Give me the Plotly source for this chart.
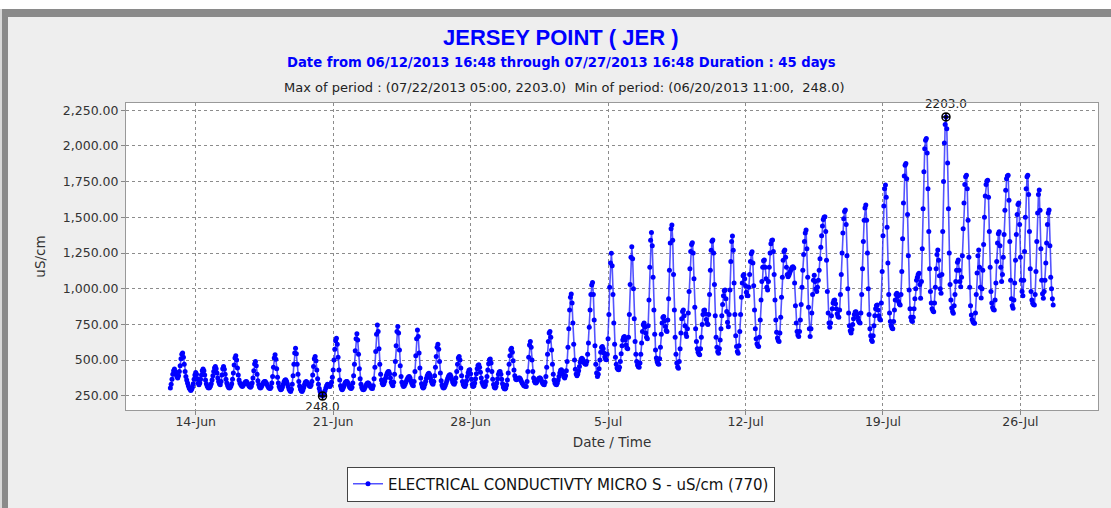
import pandas as pd
import plotly.graph_objects as go

# Hourly electrical conductivity (uS/cm), first value at 2013-06-12 17:00
start_time = "2013-06-12 17:00"

ec_part1 = [  # h0 - h119
    304, 330, 365, 400, 425, 437, 420, 400, 385, 374,
    390, 420, 460, 510, 540, 549, 520, 470, 420, 385,
    360, 340, 320, 305, 295, 287, 295, 310, 335, 365,
    395, 413, 400, 370, 340, 327, 340, 365, 395, 425,
    437, 425, 395, 360, 335, 318, 308, 304, 308, 318,
    335, 360, 390, 420, 445, 455, 440, 410, 375, 350,
    335, 327, 350, 395, 440, 455, 435, 400, 365, 340,
    322, 310, 304, 308, 318, 335, 365, 410, 465, 515,
    530, 500, 445, 395, 360, 340, 328, 320, 315, 322,
    332, 342, 348, 350, 342, 330, 320, 313, 310, 318,
    340, 375, 425, 472, 490, 460, 400, 355, 328, 312,
    304, 310, 322, 335, 345, 350, 350, 342, 330, 318,
]
ec_part2 = [  # h120 - h239
    308, 302, 300, 310, 340, 385, 450, 515, 537, 505,
    440, 380, 340, 315, 300, 292, 298, 312, 330, 348,
    358, 362, 352, 335, 315, 298, 286, 280, 295, 330,
    390, 470, 550, 583, 545, 470, 400, 350, 318, 298,
    285, 280, 290, 308, 328, 345, 350, 345, 335, 325,
    318, 315, 325, 350, 395, 455, 510, 525, 495, 430,
    370, 330, 300, 280, 265, 255, 248, 255, 268, 285,
    305, 320, 330, 325, 318, 315, 325, 345, 380, 430,
    500, 575, 635, 653, 610, 520, 430, 360, 320, 300,
    292, 300, 315, 332, 345, 350, 350, 340, 325, 312,
    304, 300, 310, 340, 390, 470, 565, 650, 684, 640,
    540, 440, 370, 330, 308, 296, 292, 298, 310, 322,
]
ec_part3 = [  # h240 - h359
    333, 339, 340, 332, 320, 310, 303, 300, 320, 370,
    450, 560, 680, 746, 700, 580, 470, 400, 360, 338,
    327, 335, 352, 372, 392, 408, 418, 420, 405, 375,
    345, 328, 320, 345, 400, 490, 600, 700, 735, 690,
    570, 460, 385, 345, 325, 315, 320, 332, 346, 360,
    372, 381, 385, 375, 355, 338, 326, 320, 350, 420,
    530, 650, 711, 665, 550, 445, 375, 335, 313, 304,
    312, 330, 350, 372, 390, 403, 408, 398, 375, 352,
    337, 330, 350, 390, 450, 525, 590, 611, 575, 490,
    410, 355, 325, 310, 304, 310, 322, 338, 355, 372,
    386, 395, 397, 385, 365, 347, 336, 330, 345, 375,
    420, 470, 515, 525, 500, 445, 390, 350, 328, 318,
]
ec_part4 = [  # h360 - h479
    315, 328, 355, 385, 412, 428, 432, 405, 365, 330,
    315, 320, 340, 370, 405, 440, 462, 467, 450, 415,
    375, 345, 328, 318, 315, 325, 350, 385, 430, 475,
    502, 507, 480, 420, 365, 328, 310, 304, 315, 340,
    370, 400, 417, 420, 400, 365, 335, 312, 301, 297,
    305, 325, 360, 410, 470, 530, 572, 583, 555, 495,
    430, 390, 368, 362, 366, 371, 374, 374, 366, 352,
    340, 330, 322, 318, 316, 315, 350, 420, 520, 605,
    630, 590, 500, 420, 375, 352, 342, 339, 348, 360,
    370, 374, 374, 365, 350, 338, 330, 327, 345, 385,
    450, 540, 630, 690, 700, 660, 570, 470, 400, 360,
    340, 330, 327, 340, 360, 385, 410, 428, 432, 420,
]
ec_part5 = [  # h480 - h599
    400, 383, 374, 390, 425, 490, 590, 720, 850, 940,
    963, 900, 760, 610, 500, 435, 402, 390, 402, 425,
    455, 485, 506, 513, 505, 492, 480, 472, 470, 490,
    540, 620, 730, 850, 960, 1025, 1043, 960, 780, 600,
    470, 410, 385, 400, 440, 500, 555, 588, 595, 580,
    550, 522, 505, 502, 540, 650, 820, 1010, 1180, 1248,
    1160, 960, 760, 610, 520, 470, 445, 435, 432, 450,
    490, 545, 600, 640, 660, 665, 640, 605, 585, 580,
    660, 820, 1030, 1220, 1294, 1210, 1000, 790, 630, 540,
    490, 465, 453, 450, 480, 540, 620, 700, 748, 759,
    730, 690, 660, 650, 740, 920, 1150, 1340, 1394, 1300,
    1080, 850, 680, 570, 515, 488, 475, 470, 510, 590,
]
ec_part6 = [  # h600 - h719
    680, 760, 798, 805, 775, 735, 708, 700, 780, 930,
    1130, 1320, 1420, 1446, 1340, 1100, 850, 660, 540, 480,
    452, 443, 490, 580, 690, 790, 840, 851, 810, 740,
    685, 665, 720, 830, 980, 1140, 1260, 1310, 1322, 1250,
    1070, 870, 720, 630, 580, 555, 542, 537, 580, 660,
    750, 820, 848, 851, 825, 785, 758, 750, 820, 960,
    1130, 1270, 1332, 1341, 1250, 1030, 810, 660, 590, 558,
    548, 580, 640, 720, 810, 890, 950, 985, 991, 930,
    840, 765, 734, 820, 990, 1190, 1330, 1369, 1270, 1040,
    820, 670, 595, 560, 548, 600, 700, 820, 940, 1040,
    1090, 1100, 1070, 1020, 975, 952, 950, 1010, 1100, 1190,
    1245, 1259, 1180, 1020, 850, 720, 650, 615, 600, 595,
]
ec_part7 = [  # h720 - h839
    660, 780, 920, 1050, 1150, 1195, 1201, 1150, 1070, 1010,
    991, 1050, 1150, 1250, 1315, 1338, 1341, 1260, 1100, 920,
    780, 695, 655, 637, 630, 690, 800, 940, 1080, 1200,
    1260, 1271, 1220, 1150, 1100, 1084, 1095, 1110, 1125, 1140,
    1150, 1154, 1145, 1040, 880, 760, 700, 675, 665, 700,
    780, 890, 1010, 1130, 1240, 1330, 1390, 1411, 1280, 1080,
    870, 720, 665, 720, 830, 960, 1060, 1095, 1050, 1000,
    980, 1010, 1060, 1130, 1210, 1290, 1370, 1440, 1485, 1500,
    1504, 1400, 1200, 980, 830, 760, 730, 760, 810, 860,
    900, 918, 920, 895, 860, 825, 805, 800, 850, 960,
    1100, 1250, 1390, 1490, 1540, 1551, 1450, 1230, 1000, 830,
    740, 705, 690, 715, 750, 790, 820, 836, 839, 825,
]
ec_part8 = [  # h840 - h959
    800, 778, 765, 760, 830, 960, 1140, 1330, 1480, 1565,
    1586, 1480, 1250, 1000, 820, 720, 670, 640, 630, 670,
    740, 810, 860, 882, 886, 850, 810, 788, 780, 900,
    1120, 1370, 1580, 1700, 1726, 1640, 1430, 1180, 960, 830,
    770, 740, 725, 720, 770, 850, 920, 960, 968, 945,
    910, 892, 886, 960, 1120, 1350, 1600, 1790, 1865, 1877,
    1770, 1520, 1230, 990, 860, 800, 778, 770, 800, 860,
    930, 1000, 1060, 1080, 1100, 1108, 1030, 933, 1050, 1280,
    1560, 1820, 1980, 2040, 2052, 1950, 1700, 1400, 1140, 980,
    900, 860, 845, 839, 900, 1010, 1140, 1240, 1271, 1200,
    1090, 1000, 968, 1100, 1400, 1750, 2020, 2150, 2203, 2120,
    1880, 1560, 1250, 1030, 920, 865, 840, 828, 880, 960,
]
ec_part9 = [  # h960 - h1079
    1050, 1130, 1185, 1201, 1130, 1050, 1014, 1080, 1230, 1420,
    1600, 1730, 1785, 1795, 1700, 1480, 1220, 1010, 880, 815,
    785, 768, 760, 758, 830, 960, 1110, 1230, 1271, 1150,
    1010, 935, 1000, 1130, 1310, 1500, 1650, 1730, 1755, 1760,
    1640, 1400, 1150, 980, 900, 868, 855, 851, 920, 1040,
    1190, 1320, 1385, 1399, 1300, 1150, 1050, 1100, 1220, 1380,
    1550, 1690, 1770, 1790, 1795, 1620, 1330, 1060, 930, 880,
    863, 920, 1040, 1200, 1380, 1520, 1590, 1600, 1450, 1220,
    1060, 980, 950, 1060, 1260, 1500, 1700, 1785, 1795, 1660,
    1400, 1140, 980, 920, 898, 890, 886, 960, 1120, 1330,
    1530, 1660, 1691, 1550, 1280, 1060, 965, 933, 980, 1060,
    1180, 1320, 1450, 1530, 1551, 1300, 1080, 1000, 930, 886,
]

y_ticks = [250, 500, 750, 1000, 1250, 1500, 1750, 2000, 2250]
x_range = ["2013-06-10 10:48", "2013-07-29 22:48"]
y_range = [150.25, 2300.75]

title_text = "JERSEY POINT ( JER )"
subtitle_text = "Date from 06/12/2013 16:48 through 07/27/2013 16:48 Duration : 45 days"
info_text = "Max of period : (07/22/2013 05:00, 2203.0)  Min of period: (06/20/2013 11:00,  248.0)"
series_name = "ELECTRICAL CONDUCTIVTY MICRO S - uS/cm (770)"

ec = (ec_part1 + ec_part2 + ec_part3 + ec_part4 + ec_part5 +
      ec_part6 + ec_part7 + ec_part8 + ec_part9)
times = pd.date_range(start_time, periods=len(ec), freq="h")
s = pd.Series(ec, index=times)
t_max, v_max = s.idxmax(), s.max()
t_min, v_min = s.idxmin(), s.min()

FONT = "DejaVu Sans, Verdana, sans-serif"

fig = go.Figure()
fig.add_trace(go.Scatter(
    x=times, y=ec, mode="lines+markers", name=series_name,
    line=dict(color="rgba(40,40,255,0.8)", width=1.6),
    marker=dict(color="#0000FF", size=5, line=dict(width=0)),
))
for t, v, pos in [(t_max, v_max, "top center"), (t_min, v_min, "bottom center")]:
    fig.add_trace(go.Scatter(
        x=[t], y=[v], mode="markers+text", text=[f"{v:.1f}"],
        textposition=pos, showlegend=False, hoverinfo="skip",
        marker=dict(symbol="circle-cross-open", size=8, color="black",
                    line=dict(color="black", width=1.5)),
        textfont=dict(family=FONT, size=12, color="#222"),
        cliponaxis=False,
    ))

L, R, T, B = 126, 13, 103, 98
W, H = 1111, 508
pw, ph = W - L - R, H - T - B


def px_x(x):
    return (x - L) / pw


def px_y(y):
    return (H - B - y) / ph


annotations = [
    dict(text=f"<b>{title_text}</b>", x=px_x(561), y=px_y(38),
         font=dict(family="Liberation Sans, Arial, sans-serif", size=22, color="#0000FF")),
    dict(text=f"<b>{subtitle_text}</b>", x=px_x(561), y=px_y(63),
         font=dict(family=FONT, size=13.2, color="#0000FF")),
    dict(text=info_text, x=px_x(564), y=px_y(87),
         font=dict(family=FONT, size=13, color="#222")),
]
for a in annotations:
    a.update(xref="paper", yref="paper", xanchor="center", yanchor="middle",
             showarrow=False)

shapes = [
    dict(type="rect", xref="paper", yref="paper", x0=px_x(-5), x1=px_x(W + 5),
         y0=px_y(-5), y1=px_y(9), fillcolor="white", line=dict(width=0), layer="below"),
    dict(type="rect", xref="paper", yref="paper", x0=px_x(-5), x1=px_x(W + 5),
         y0=px_y(9), y1=px_y(17), fillcolor="#8a8a8a", line=dict(width=0), layer="below"),
    dict(type="rect", xref="paper", yref="paper", x0=px_x(-5), x1=px_x(2),
         y0=px_y(H + 5), y1=px_y(9), fillcolor="#d8d8d8", line=dict(width=0), layer="below"),
    dict(type="rect", xref="paper", yref="paper", x0=px_x(2), x1=px_x(8),
         y0=px_y(H + 5), y1=px_y(9), fillcolor="#8a8a8a", line=dict(width=0), layer="below"),
]

fig.update_layout(
    width=W, height=H,
    margin=dict(l=L, r=R, t=T, b=B, pad=0, autoexpand=False),
    paper_bgcolor="#EEEEEE", plot_bgcolor="white",
    font=dict(family=FONT, size=12.5, color="#333"),
    showlegend=True,
    legend=dict(x=px_x(561), y=px_y(484), xanchor="center", yanchor="middle",
                bgcolor="white", bordercolor="#444", borderwidth=1,
                font=dict(family=FONT, size=15, color="#111"), itemwidth=30),
    annotations=annotations, shapes=shapes,
    xaxis=dict(
        type="date", range=x_range, tick0="2013-06-14", dtick=7 * 86400000,
        tickformat="%-d-%b", showgrid=True, gridcolor="#8c8c8c", griddash="3px,3px",
        gridwidth=1, ticks="outside", ticklen=4, tickcolor="#888",
        showline=True, linecolor="#999", mirror=True, zeroline=False,
        tickfont=dict(family=FONT, size=12.5, color="#333"),
        ticklabelstandoff=-4,
        title=dict(text="Date / Time", standoff=9,
                   font=dict(family=FONT, size=13.5, color="#333")),
    ),
    yaxis=dict(
        range=y_range, tickvals=y_ticks, tickformat=",.2f", showgrid=True,
        gridcolor="#8c8c8c", griddash="3px,3px", gridwidth=1,
        ticks="outside", ticklen=4, tickcolor="#888",
        showline=True, linecolor="#999", mirror=True, zeroline=False,
        tickfont=dict(family=FONT, size=12.5, color="#333"),
        title=dict(text="uS/cm", standoff=14,
                   font=dict(family=FONT, size=13.5, color="#333")),
    ),
)

fig.write_html(
    "out.html",
    config={"displayModeBar": False},
    post_script="document.body.style.margin='0';document.body.style.overflow='hidden';",
)
